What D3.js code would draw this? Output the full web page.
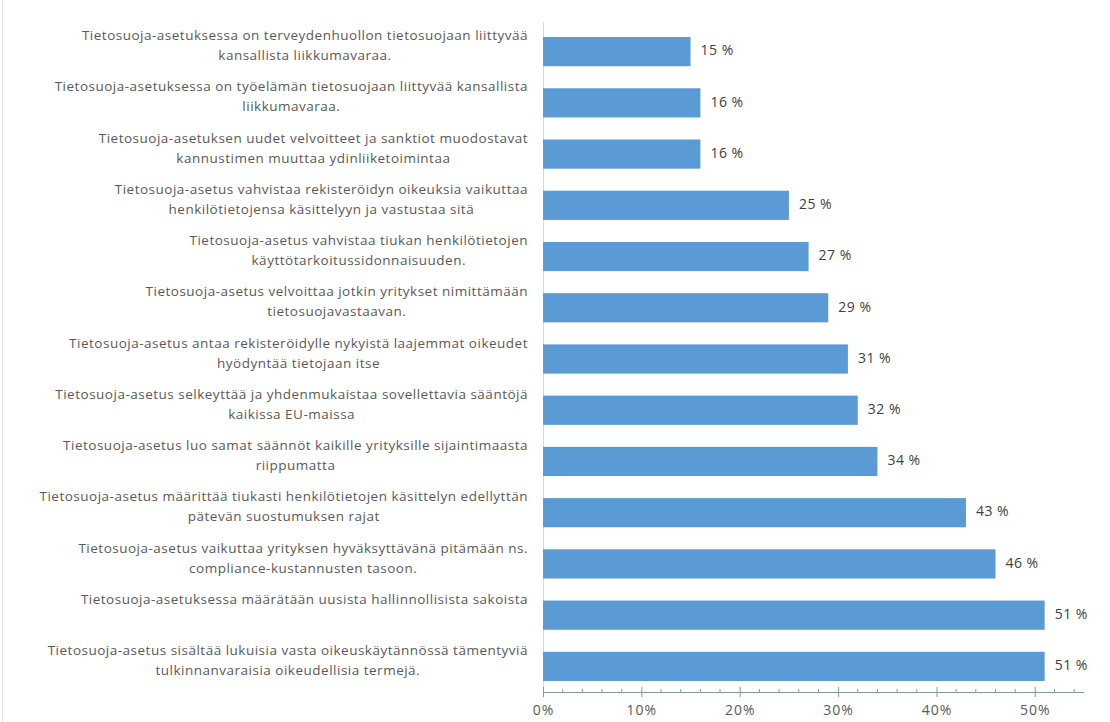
<!DOCTYPE html>
<html>
<head>
<meta charset="utf-8">
<script src="https://cdn.jsdelivr.net/npm/d3@7"></script>
<style>
  body { margin: 0; background: #fff; }
  svg { display: block; }
  text { font-family: "Open Sans", "Liberation Sans", sans-serif; }
</style>
</head>
<body>
<script>
// category labels, already split into the lines shown in the chart
const categories = [
  ["Tietosuoja-asetuksessa on terveydenhuollon tietosuojaan liittyvää", "kansallista liikkumavaraa."],
  ["Tietosuoja-asetuksessa on työelämän tietosuojaan liittyvää kansallista", "liikkumavaraa."],
  ["Tietosuoja-asetuksen uudet velvoitteet ja sanktiot muodostavat", "kannustimen muuttaa ydinliiketoimintaa"],
  ["Tietosuoja-asetus vahvistaa rekisteröidyn oikeuksia vaikuttaa", "henkilötietojensa käsittelyyn ja vastustaa sitä"],
  ["Tietosuoja-asetus vahvistaa tiukan henkilötietojen", "käyttötarkoitussidonnaisuuden."],
  ["Tietosuoja-asetus velvoittaa jotkin yritykset nimittämään", "tietosuojavastaavan."],
  ["Tietosuoja-asetus antaa rekisteröidylle nykyistä laajemmat oikeudet", "hyödyntää tietojaan itse"],
  ["Tietosuoja-asetus selkeyttää ja yhdenmukaistaa sovellettavia sääntöjä", "kaikissa EU-maissa"],
  ["Tietosuoja-asetus luo samat säännöt kaikille yrityksille sijaintimaasta", "riippumatta"],
  ["Tietosuoja-asetus määrittää tiukasti henkilötietojen käsittelyn edellyttän", "pätevän suostumuksen rajat"],
  ["Tietosuoja-asetus vaikuttaa yrityksen hyväksyttävänä pitämään ns.", "compliance-kustannusten tasoon."],
  ["Tietosuoja-asetuksessa määrätään uusista hallinnollisista sakoista"],
  ["Tietosuoja-asetus sisältää lukuisia vasta oikeuskäytännössä tämentyviä", "tulkinnanvaraisia oikeudellisia termejä."]
];
// percentages
const values = [15, 16, 16, 25, 27, 29, 31, 32, 34, 43, 46, 51, 51];
const majorTicks = [0, 10, 20, 30, 40, 50];
const minorTicks = d3.range(0, 56, 2);

const w = 1110;
const h = 722;
const plotLeft = 543, plotRight = 1084, plotTop = 26, plotBottom = 692;

const svg = d3.select("body")
  .append("svg")
  .attr("width", w)
  .attr("height", h);

// faint chart border on the left
svg.append("line")
  .attr("x1", 2.5).attr("x2", 2.5)
  .attr("y1", 0).attr("y2", h)
  .attr("stroke", "#e6e6e6");

const x = d3.scaleLinear().domain([0, 55]).range([plotLeft, plotRight]);
const y = d3.scaleBand()
  .domain(d3.range(categories.length))
  .range([plotTop, plotBottom])
  .paddingInner(0.43)
  .paddingOuter(0.215);

// vertical category axis line
svg.append("line")
  .attr("x1", plotLeft + 0.5).attr("x2", plotLeft + 0.5)
  .attr("y1", 22).attr("y2", plotBottom)
  .attr("stroke", "#d9d9d9");

// bars
svg.selectAll("rect.bar")
  .data(values)
  .enter()
  .append("rect")
  .attr("class", "bar")
  .attr("x", x(0))
  .attr("y", (d, i) => y(i))
  .attr("width", d => x(d) - x(0))
  .attr("height", y.bandwidth())
  .attr("fill", "#5b9bd5");

// value labels
svg.selectAll("text.val")
  .data(values)
  .enter()
  .append("text")
  .attr("class", "val")
  .attr("x", d => x(d) + 10)
  .attr("y", (d, i) => y(i) + y.bandwidth() / 2)
  .attr("dominant-baseline", "middle")
  .style("font-size", "14px")
  .style("letter-spacing", "0.5px")
  .style("fill", "#404040")
  .text(d => d + " %");

// category labels, centered lines, block right-aligned
const labelRight = 528;
categories.forEach(function(lines, i) {
  const g = svg.append("g");
  const cy = y(i) + y.bandwidth() / 2 - 5;
  const texts = lines.map(function(line, j) {
    return g.append("text")
      .attr("y", cy - 10 + j * 20)
      .attr("dominant-baseline", "middle")
      .attr("text-anchor", "middle")
      .style("font-size", "13.5px")
      .style("letter-spacing", "0.5px")
      .style("fill", "#595959")
      .text(line);
  });
  const maxW = d3.max(texts, t => t.node().getComputedTextLength());
  texts.forEach(t => t.attr("x", labelRight - maxW / 2));
});

// x axis
const axis = d3.axisBottom(x)
  .tickValues(majorTicks)
  .tickSize(5)
  .tickPadding(8)
  .tickFormat(d => d + "%");
const gx = svg.append("g")
  .attr("transform", "translate(0," + plotBottom + ")")
  .call(axis);
gx.select(".domain").attr("stroke", "#8497b0").attr("d", "M" + plotLeft + ",0.5H" + plotRight);
gx.selectAll(".tick line").attr("stroke", "#8497b0").attr("y1", -5);
gx.selectAll(".tick text")
  .style("font-size", "14px")
  .style("fill", "#595959")
  .style("letter-spacing", "1px")
  .attr("font-family", null);

// minor ticks
svg.selectAll("line.minor")
  .data(minorTicks.filter(d => d % 10 !== 0))
  .enter()
  .append("line")
  .attr("class", "minor")
  .attr("x1", d => x(d)).attr("x2", d => x(d))
  .attr("y1", plotBottom - 3).attr("y2", plotBottom)
  .attr("stroke", "#8497b0");
</script>
</body>
</html>
